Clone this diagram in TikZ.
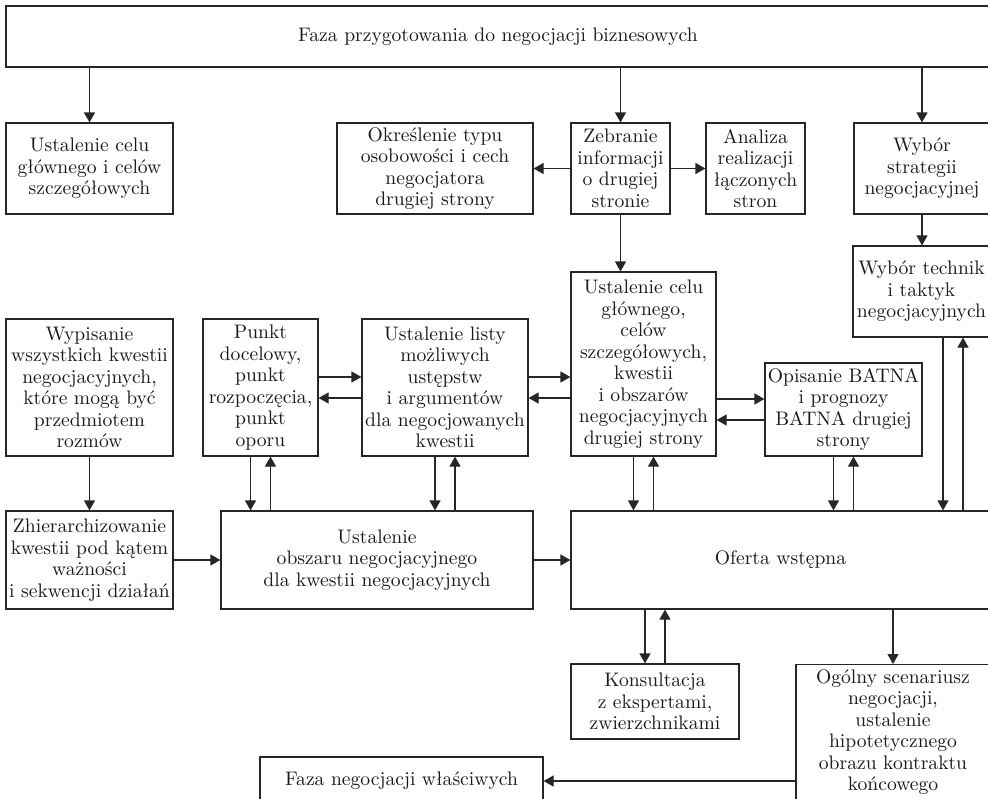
\documentclass[tikz,border=0pt]{standalone}
\usepackage{fontspec}
\setmainfont{lmroman10-regular.otf}
\usetikzlibrary{arrows.meta}
\begin{document}
\begin{tikzpicture}[x=1pt,y=-1pt,
  box/.style={draw=black!85, line width=1.2pt, inner sep=0pt, align=center,
    font=\fontsize{19.6}{21.5}\selectfont, text=black!90},
  arr/.style={draw=black!85, line width=1.2pt, -{Triangle[length=10pt,width=11pt]}}]
\useasboundingbox (0,0) rectangle (988,798);
\clip (0,0) rectangle (988,798);

% top
\node[box, minimum width=984pt, minimum height=61pt] (top) at (498,36.5) {Faza przygotowania do negocjacji biznesowych};

% row 1
\node[box, minimum width=167pt, minimum height=91pt] (b1) at (89.5,168.5) {Ustalenie celu\\głównego i celów\\szczegółowych};
\node[box, minimum width=196pt, minimum height=91pt] (b2) at (435,168.5) {Określenie typu\\osobowości i cech\\negocjatora\\drugiej strony};
\node[box, minimum width=99pt, minimum height=91pt] (b3) at (620.5,168.5) {Zebranie\\informacji\\o drugiej\\stronie};
\node[box, minimum width=99pt, minimum height=91pt] (b4) at (755.5,168.5) {Analiza\\realizacji\\łączonych\\stron};
\node[box, minimum width=136pt, minimum height=91pt] (b5) at (922,168.5) {Wybór\\strategii\\negocjacyjnej};

% middle
\node[box, minimum width=137pt, minimum height=91pt] (wt) at (921.5,291.5) {Wybór technik\\i taktyk\\negocjacyjnych};
\node[box, minimum width=167pt, minimum height=137pt] (wyp) at (89.5,387.5) {Wypisanie\\wszystkich kwestii\\negocjacyjnych,\\które mogą być\\przedmiotem\\rozmów};
\node[box, minimum width=115pt, minimum height=137pt] (punkt) at (260.5,387.5) {Punkt\\docelowy,\\punkt\\rozpoczęcia,\\punkt\\oporu};
\node[box, minimum width=166pt, minimum height=137pt] (lista) at (445,387.5) {Ustalenie listy\\możliwych\\ustępstw\\i argumentów\\dla negocjowanych\\kwestii};
\node[box, minimum width=145pt, minimum height=184pt] (uc) at (643.5,364) {Ustalenie celu\\głównego,\\celów\\szczegółowych,\\kwestii\\i obszarów\\negocjacyjnych\\drugiej strony};
\node[box, minimum width=157pt, minimum height=93pt] (batna) at (843.5,409.5) {Opisanie BATNA\\i prognozy\\BATNA drugiej\\strony};

% lower row
\node[box, minimum width=167pt, minimum height=98pt] (zh) at (89.5,560) {Zhierarchizowanie\\kwestii pod kątem\\ważności\\i sekwencji działań};
\node[box, minimum width=312pt, minimum height=98pt] (obszar) at (377,560) {Ustalenie\\obszaru negocjacyjnego\\dla kwestii negocjacyjnych};
\node[box, minimum width=419pt, minimum height=98pt] (oferta) at (780.5,560) {Oferta wstępna};

% bottom
\node[box, minimum width=168pt, minimum height=75pt] (kons) at (655,701.5) {Konsultacja\\z ekspertami,\\zwierzchnikami};
\node[box, minimum width=194pt, inner ysep=5pt, anchor=north] (ogolny) at (893,664) {Ogólny scenariusz\\negocjacji,\\ustalenie\\hipotetycznego\\obrazu kontraktu\\końcowego};
\node[box, minimum width=283pt, minimum height=48pt] (faza) at (401.5,781) {Faza negocjacji właściwych};

% arrows from top
\draw[arr] (b1.north |- top.south) -- (b1.north);
\draw[arr] (b3.north |- top.south) -- (b3.north);
\draw[arr] (b5.north |- top.south) -- (b5.north);
\draw[arr] (b3.west) -- (b2.east);
\draw[arr] (b3.east) -- (b4.west);
\draw[arr] (b3.south) -- (b3.south |- uc.north);
\draw[arr] (b5.south) -- (b5.south |- wt.north);
\draw[arr] (wyp.south) -- (zh.north);

% horizontal pairs
\draw[arr] ([yshift=10.5pt]punkt.east) -- ([yshift=10.5pt]punkt.east -| lista.west);
\draw[arr] ([yshift=-10.5pt]lista.west) -- ([yshift=-10.5pt]lista.west -| punkt.east);
\draw[arr] ([yshift=10.5pt]lista.east) -- ([yshift=10.5pt]lista.east -| uc.west);
\draw[arr] ([yshift=-10.5pt]lista.east -| uc.west) -- ([yshift=-10.5pt]lista.east);
\draw[arr] ([yshift=10.5pt]batna.west -| uc.east) -- ([yshift=10.5pt]batna.west);
\draw[arr] ([yshift=-10.5pt]batna.west) -- ([yshift=-10.5pt]batna.west -| uc.east);

% vertical pairs to lower row
\draw[arr] ([xshift=-10pt]punkt.south) -- ([xshift=-10pt]punkt.south |- obszar.north);
\draw[arr] ([xshift=10pt]punkt.south |- obszar.north) -- ([xshift=10pt]punkt.south);
\draw[arr] ([xshift=-10pt]lista.south) -- ([xshift=-10pt]lista.south |- obszar.north);
\draw[arr] ([xshift=10pt]lista.south |- obszar.north) -- ([xshift=10pt]lista.south);
\draw[arr] ([xshift=-10pt]uc.south) -- ([xshift=-10pt]uc.south |- oferta.north);
\draw[arr] ([xshift=10pt]uc.south |- oferta.north) -- ([xshift=10pt]uc.south);
\draw[arr] ([xshift=-10pt]batna.south) -- ([xshift=-10pt]batna.south |- oferta.north);
\draw[arr] ([xshift=10pt]batna.south |- oferta.north) -- ([xshift=10pt]batna.south);
\draw[arr] ([xshift=21.5pt]wt.south) -- ([xshift=21.5pt]wt.south |- oferta.north);
\draw[arr] ([xshift=41.5pt]wt.south |- oferta.north) -- ([xshift=41.5pt]wt.south);

\draw[arr] (zh.east) -- (obszar.west);
\draw[arr] (obszar.east) -- (oferta.west);

% bottom arrows
\draw[arr] ([xshift=-10pt]kons.north |- oferta.south) -- ([xshift=-10pt]kons.north);
\draw[arr] ([xshift=10pt]kons.north) -- ([xshift=10pt]kons.north |- oferta.south);
\draw[arr] (ogolny.north |- oferta.south) -- (ogolny.north);
\draw[arr] (ogolny.west |- faza.east) -- (faza.east);
\end{tikzpicture}
\end{document}
